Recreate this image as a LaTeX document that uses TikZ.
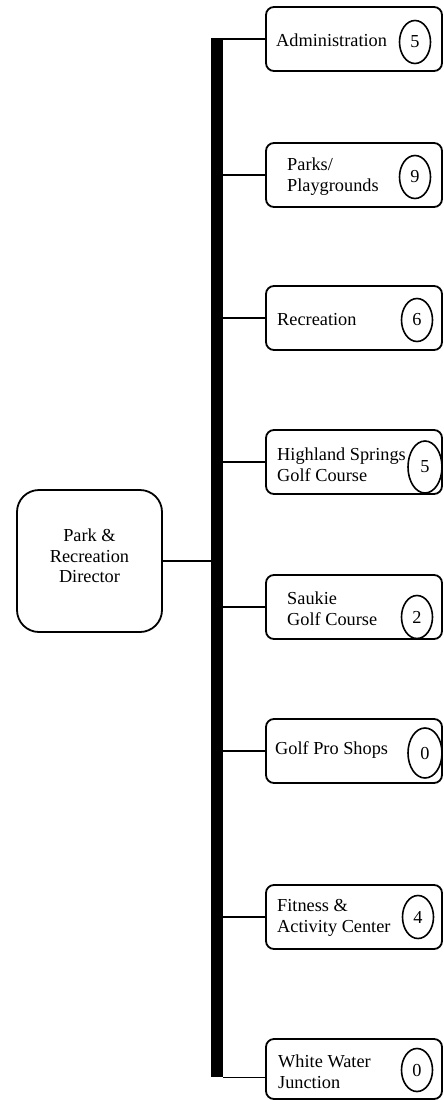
\documentclass[tikz,border=0pt]{standalone}
\usepackage{fontspec}
\setmainfont{Liberation Serif}
\usetikzlibrary{shapes.geometric}

\begin{document}
\begin{tikzpicture}[x=1pt,y=-1pt,
  unitbox/.style={draw, line width=1.8pt, rounded corners=8pt, minimum width=176pt, minimum height=64pt, inner sep=0pt},
  unitlabel/.style={anchor=west, align=left, inner sep=0pt, font=\fontsize{18.3}{21}\selectfont},
  countoval/.style={draw, ellipse, line width=1.6pt, inner sep=0pt, minimum width=31pt, minimum height=43pt, font=\fontsize{18.3}{21}\selectfont},
  tie/.style={line width=1.4pt}]
\useasboundingbox (0,0) rectangle (444,1100);
\node[unitbox, minimum width=145pt, minimum height=142pt, rounded corners=22pt] (director) at (89.5,561) {};
\node[align=center, inner sep=0pt, font=\fontsize{18.3}{20.5}\selectfont] (directortext) at (89.5,556) {Park \&\\Recreation\\Director};
\node[fill=black, inner sep=0pt, minimum width=12pt, minimum height=1039pt] (spine) at (217,557.5) {};
\draw[tie] (director.east) -- (director.east -| spine.west);
\node[unitbox] (admin) at (354,39) {};
\node[unitlabel] (admintext) at (276,40) {Administration};
\node[countoval] (adminnum) at (415,42) {5};
\node[unitbox] (parks) at (354,175) {};
\node[unitlabel] (parkstext) at (287,177) {Parks/\\Playgrounds};
\node[countoval] (parksnum) at (415,177) {9};
\node[unitbox] (recreation) at (354,318) {};
\node[unitlabel] (recreationtext) at (277,320) {Recreation};
\node[countoval] (recreationnum) at (417,320) {6};
\node[unitbox] (highland) at (354,462) {};
\node[unitlabel] (highlandtext) at (277,465) {Highland Springs\\Golf Course};
\node[countoval, minimum width=34pt, minimum height=52pt] (highlandnum) at (425,467) {5};
\node[unitbox] (saukie) at (354,607) {};
\node[unitlabel] (saukietext) at (287,609) {Saukie\\Golf Course};
\node[countoval] (saukienum) at (417,617) {2};
\node[unitbox] (golfpro) at (354,751) {};
\node[unitlabel] (golfprotext) at (275,750) {Golf Pro Shops};
\node[countoval, minimum width=34pt, minimum height=50pt] (golfpronum) at (425,753) {0};
\node[unitbox] (fitness) at (354,917) {};
\node[unitlabel] (fitnesstext) at (277,918) {Fitness \&\\Activity Center};
\node[countoval] (fitnessnum) at (418,917) {4};
\node[unitbox, minimum height=60pt] (junction) at (354,1069) {};
\node[unitlabel] (junctiontext) at (278,1072) {White Water\\Junction};
\node[countoval] (junctionnum) at (417,1070) {0};
\draw[tie] (admin.west) -- (admin.west -| spine.east);
\draw[tie] (parks.west) -- (parks.west -| spine.east);
\draw[tie] (recreation.west) -- (recreation.west -| spine.east);
\draw[tie] (highland.west) -- (highland.west -| spine.east);
\draw[tie] (saukie.west) -- (saukie.west -| spine.east);
\draw[tie] (golfpro.west) -- (golfpro.west -| spine.east);
\draw[tie] (fitness.west) -- (fitness.west -| spine.east);
\draw[tie] (junction.west |- spine.south) -- (spine.south east);
\end{tikzpicture}
\end{document}
